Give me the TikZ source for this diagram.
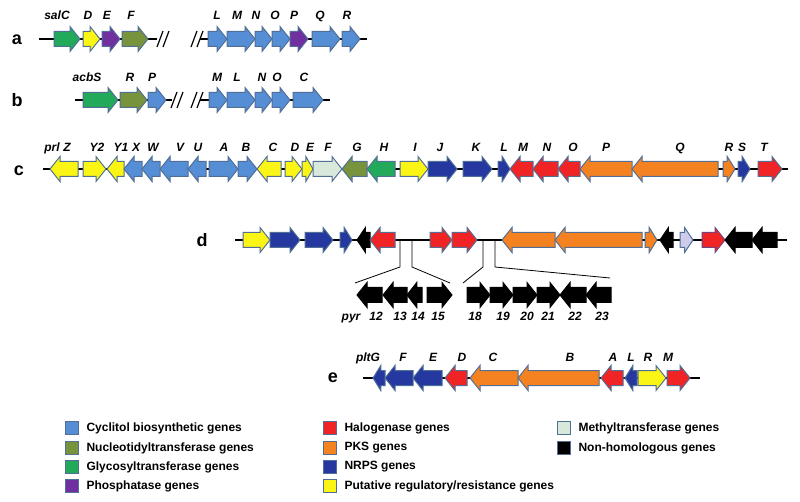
\documentclass[tikz,border=0pt]{standalone}
\usepackage{fontspec}
\setmainfont{Liberation Sans}
\usetikzlibrary{positioning}
\definecolor{cyclitol}{RGB}{85,142,213}
\definecolor{nucleo}{RGB}{119,147,60}
\definecolor{glyco}{RGB}{34,170,90}
\definecolor{phospha}{RGB}{112,48,160}
\definecolor{halo}{RGB}{240,36,36}
\definecolor{pks}{RGB}{245,130,32}
\definecolor{nrps}{RGB}{36,56,160}
\definecolor{regul}{RGB}{250,245,20}
\definecolor{methyl}{RGB}{216,232,218}
\definecolor{methylb}{RGB}{205,205,235}
\definecolor{edge}{RGB}{80,110,150}
\definecolor{edgeb}{RGB}{110,70,130}
\def\gbh{7.5}
\def\ghh{12.5}
% gene arrow: [style]{tail x}{tip x}{y}
\newcommand{\gene}[4][]{%
  \pgfmathsetmacro\gdir{(#3>#2)?1:-1}%
  \pgfmathsetmacro\glen{abs(#3-#2)}%
  \pgfmathsetmacro\gbase{#3-\gdir*min(10,\glen*0.65)}%
  \draw[genestyle,#1] (#2,#4-\gbh) -- (\gbase,#4-\gbh) -- (\gbase,#4-\ghh) -- (#3,#4)
    -- (\gbase,#4+\ghh) -- (\gbase,#4+\gbh) -- (#2,#4+\gbh) -- cycle;}
\begin{document}
\begin{tikzpicture}[x=1pt,y=-1pt,
  genestyle/.style={draw=edge,line width=1pt,line join=miter},
  cluster/.style={line width=2.5pt},
  brk/.style={line width=1.2pt},
  zoomline/.style={line width=0.8pt},
  glabel/.style={font=\bfseries\itshape\fontsize{12}{14}\selectfont,
    text height=8.6pt,text depth=2.5pt},
  rowlabel/.style={font=\bfseries\fontsize{18}{20}\selectfont},
  legbox/.style={draw=edge,line width=1pt,minimum size=13pt,inner sep=0pt},
  legtext/.style={font=\bfseries\fontsize{12}{14}\selectfont,right=4pt of #1}
  ]
  \useasboundingbox (0,0) rectangle (800,502);
  % row labels
  \node[rowlabel] (ra) at (17,40) {a};
  \node[rowlabel] (rb) at (17,100) {b};
  \node[rowlabel] (rc) at (19,171) {c};
  \node[rowlabel] (rd) at (202,240) {d};
  \node[rowlabel] (re) at (333,378) {e};
  %a
  \draw[cluster] (39,39) -- (157,39) (200,39) -- (367,39);
  \foreach \x in {160,166,194,200}
    \draw[brk] (\x-3,47) -- (\x+3,31);
  \foreach \p/\q/\c in {54/80/glyco,83/100/regul,102/120/phospha,122/148/nucleo,
    208/227/cyclitol,227/255/cyclitol,255/272/cyclitol,272/290/cyclitol,
    290/308/phospha,312/340/cyclitol,342/360/cyclitol}
    \gene[fill=\c]{\p}{\q}{39};
  \foreach \x/\t in {57/salC,88/D,107/E,131/F,217/L,237/M,256/N,275/O,294/P,320/Q,347/R}
    \node[glabel] (a\t) at (\x,16) {\t};
  %b
  \draw[cluster] (75,100) -- (172,100) (200,100) -- (330,100);
  \foreach \x in {174,180,194,200}
    \draw[brk] (\x-3,108) -- (\x+3,92);
  \foreach \p/\q/\c in {83/118/glyco,120/147/nucleo,148/166/cyclitol,
    209/227/cyclitol,227/255/cyclitol,255/272/cyclitol,272/290/cyclitol,293/323/cyclitol}
    \gene[fill=\c]{\p}{\q}{100};
  \foreach \x/\t in {87/acbS,130/R,152/P,217/M,237/L,262/N,277/O,304/C}
    \node[glabel] (b\t) at (\x,78) {\t};
  %c
  \draw[cluster] (43,169) -- (788,169);
  \foreach \p/\q/\c in {78/50/regul,83/106/regul,124/107/regul,142/124/cyclitol,
    160/142/cyclitol,188/160/cyclitol,206/188/cyclitol,209/238/cyclitol,238/257/cyclitol,
    281/257/regul,285/302/regul,302/313/regul,313/342/methyl,367/342/nucleo,395/367/glyco,
    400/428/regul,428/457/nrps,463/492/nrps,498/510/nrps,533/510/halo,558/533/halo,
    580/558/halo,632/580/pks,718/632/pks,723/735/pks,738/750/nrps,758/782/halo}
    \gene[fill=\c]{\p}{\q}{169};
  \foreach \x/\t in {52/prl,67/Z,97/Y2,121/Y1,136/X,153/W,180/V,198/U,224/A,246/B,
    273/C,295/D,310/E,328/F,357/G,384/H,415/I,440/J,476/K,504/L,523/M,547/N,573/O,
    606/P,680/Q,729/R,742/S,764/T}
    \node[glabel] (c\t) at (\x,148) {\t};
  %d
  \draw[cluster] (235,240) -- (787,240);
  \foreach \p/\q/\c/\e in {243/270/regul/edge,270/300/nrps/edge,305/333/nrps/edge,
    340/352/nrps/edge,370/357/black/black,395/370/halo/edge,430/452/halo/edge,
    452/477/halo/edge,555/502/pks/edge,642/555/pks/edge,645/657/pks/edge,
    673/660/black/black,680/693/methylb/edge,702/725/halo/edgeb,752/725/black/black,
    777/752/black/black}
    \gene[fill=\c,draw=\e]{\p}{\q}{240};
  \coordinate (s1) at (400,240); \coordinate (k1) at (400,267); \coordinate (e1) at (355,283);
  \coordinate (s2) at (412,240); \coordinate (k2) at (412,267); \coordinate (e2) at (450,283);
  \coordinate (s3) at (483,240); \coordinate (k3) at (483,267); \coordinate (e3) at (463,283);
  \coordinate (s4) at (495,240); \coordinate (k4) at (495,267); \coordinate (e4) at (610,278);
  \foreach \i in {1,...,4}
    \draw[zoomline] (s\i) -- (k\i) -- (e\i);
  \foreach \p/\q in {382/357,407/383,422/407,427/452,467/490,490/513,513/537,537/560,
    586/560,611/586}
    \gene[fill=black,draw=black]{\p}{\q}{295};
  \foreach \x/\t [count=\i] in {351/pyr,376/12,400/13,418/14,438/15,475/18,503/19,527/20,
    548/21,575/22,602/23}
    \node[glabel] (d\i) at (\x,317) {\t};
  %e
  \draw[cluster] (363,378) -- (700,378);
  \foreach \p/\q/\c in {385/373/nrps,413/385/nrps,442/413/nrps,467/445/halo,518/470/pks,
    599/518/pks,623/601/halo,637/625/nrps,638/666/regul,667/690/halo}
    \gene[fill=\c]{\p}{\q}{378};
  \foreach \x/\t in {368/pltG,403/F,433/E,462/D,493/C,570/B,613/A,631/L,648/R,668/M}
    \node[glabel] (e\t) at (\x,358) {\t};
  % legend
  \foreach \x/\y/\c/\t [count=\i] in {72/428/cyclitol/Cyclitol biosynthetic genes,
    72/448/nucleo/Nucleotidyltransferase genes,72/467/glyco/Glycosyltransferase genes,
    72/486/phospha/Phosphatase genes,330/428/halo/Halogenase genes,
    330/448/pks/PKS genes,330/467/nrps/NRPS genes,
    330/486/regul/{Putative regulatory/resistance genes},564/428/methyl/Methyltransferase genes,
    564/448/black/Non-homologous genes}
  {
    \node[legbox,fill=\c] (lg\i) at (\x,\y) {};
    \node[legtext=lg\i] (lt\i) {\t};
  }
\end{tikzpicture}
\end{document}
